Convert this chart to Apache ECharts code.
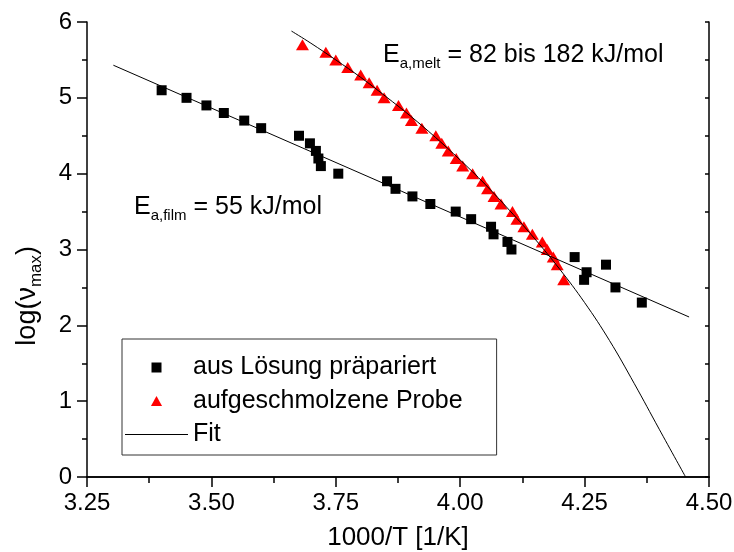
<!DOCTYPE html>
<html>
<head>
<meta charset="utf-8">
<script src="https://cdn.jsdelivr.net/npm/echarts@6/dist/echarts.min.js"></script>
<style>html,body{margin:0;padding:0;background:#fff}#c{width:734px;height:552px}</style>
</head>
<body>
<div id="c"></div>
<script>
// ---- data ----
const squareX = [3.40, 3.45, 3.49, 3.525, 3.566, 3.60, 3.676, 3.698, 3.71, 3.715, 3.72, 3.755, 3.853, 3.87, 3.904, 3.94, 3.991, 4.022, 4.062, 4.067, 4.095, 4.103, 4.23, 4.254, 4.249, 4.293, 4.312, 4.365];
const squareY = [5.1, 5.0, 4.9, 4.8, 4.7, 4.6, 4.5, 4.4, 4.3, 4.2, 4.1, 4.0, 3.9, 3.8, 3.7, 3.6, 3.5, 3.4, 3.3, 3.2, 3.1, 3.0, 2.9, 2.7, 2.6, 2.8, 2.5, 2.3];
const triX = [3.683, 3.730, 3.750, 3.774, 3.800, 3.817, 3.833, 3.847, 3.876, 3.892, 3.902, 3.923, 3.951, 3.963, 3.976, 3.992, 4.005, 4.025, 4.045, 4.055, 4.068, 4.082, 4.105, 4.114, 4.128, 4.145, 4.165, 4.175, 4.187, 4.195, 4.208];
const triY = [5.7, 5.6, 5.5, 5.4, 5.3, 5.2, 5.1, 5.0, 4.9, 4.8, 4.7, 4.6, 4.5, 4.4, 4.3, 4.2, 4.1, 4.0, 3.9, 3.8, 3.7, 3.6, 3.5, 3.4, 3.3, 3.2, 3.1, 3.0, 2.9, 2.8, 2.6];
const linFitX = [3.303, 4.46];
const linFitY = [5.43, 2.11];
const vftFitX = [3.661, 3.70, 3.75, 3.80, 3.85, 3.90, 3.95, 4.00, 4.05, 4.10, 4.15, 4.20, 4.25, 4.30, 4.35, 4.40, 4.453];
const vftFitY = [5.88, 5.72, 5.50, 5.27, 5.02, 4.76, 4.48, 4.18, 3.86, 3.51, 3.14, 2.74, 2.30, 1.80, 1.23, 0.63, 0.0];
const xTicks = { min: 3.25, max: 4.50, step: 0.25 };
const yTicks = { min: 0, max: 6, step: 1 };
const seriesNames = ['aus Lösung präpariert', 'aufgeschmolzene Probe', 'Fit'];

const zip = (xs, ys) => xs.map((x, i) => [x, ys[i]]);
const FONT = 'Liberation Sans, Arial, sans-serif';
const chart = echarts.init(document.getElementById('c'), null, { renderer: 'canvas' });

const axisLine = { show: true, lineStyle: { color: '#000', width: 1.5 } };
const subRich = { s: { fontSize: 15, fontFamily: FONT, verticalAlign: 'bottom', lineHeight: 12 } };
chart.setOption({
  animation: false,
  backgroundColor: '#fff',
  textStyle: { fontFamily: FONT, color: '#000' },
  grid: { left: 87, right: 25, top: 22, bottom: 75, containLabel: false, outerBoundsMode: 'none' },
  xAxis: [{
    type: 'value', min: xTicks.min, max: xTicks.max, interval: xTicks.step,
    position: 'bottom',
    name: '1000/T [1/K]', nameLocation: 'middle', nameGap: 48,
    nameTextStyle: { fontSize: 26, color: '#000', fontFamily: FONT },
    axisLine: axisLine,
    axisTick: { show: true, inside: false, length: 10, lineStyle: { color: '#000', width: 1.5 } },
    minorTick: { show: true, splitNumber: 2, length: 6, lineStyle: { color: '#000', width: 1.5 } },
    axisLabel: { fontSize: 24, color: '#000', margin: 14, fontFamily: FONT, formatter: v => v.toFixed(2) },
    splitLine: { show: false }
  }, {
    type: 'value', min: xTicks.min, max: xTicks.max, interval: xTicks.step,
    position: 'top',
    axisLine: axisLine,
    axisTick: { show: false },
    axisLabel: { show: false },
    splitLine: { show: false }
  }],
  yAxis: [{
    type: 'value', min: yTicks.min, max: yTicks.max, interval: yTicks.step,
    position: 'left',
    axisLine: axisLine,
    axisTick: { show: true, inside: false, length: 10, lineStyle: { color: '#000', width: 1.5 } },
    minorTick: { show: true, splitNumber: 2, length: 5, lineStyle: { color: '#000', width: 1.5 } },
    axisLabel: { fontSize: 24, color: '#000', margin: 15, fontFamily: FONT },
    splitLine: { show: false }
  }, {
    type: 'value', min: yTicks.min, max: yTicks.max, interval: yTicks.step,
    position: 'right',
    axisLine: axisLine,
    axisTick: { show: true, inside: true, length: 4, lineStyle: { color: '#000', width: 1.5 } },
    minorTick: { show: true, splitNumber: 2, length: 4, lineStyle: { color: '#000', width: 1.5 } },
    axisLabel: { show: false },
    splitLine: { show: false }
  }],
  legend: {
    data: [
      { name: seriesNames[0], icon: 'path://M0,0L10,0L10,10L0,10Z' },
      { name: seriesNames[1], icon: 'path://M5,0L10,9L0,9Z' },
      { name: seriesNames[2], icon: 'path://M0,0L63,0L63,1L0,1Z' }
    ],
    orient: 'vertical',
    left: 122, top: 339,
    padding: [16, 34, 8, 3],
    itemWidth: 63, itemHeight: 10, itemGap: 8.5,
    borderColor: '#333', borderWidth: 1,
    textStyle: { fontSize: 25, color: '#000', fontFamily: FONT },
    symbolKeepAspect: true
  },
  series: [{
    name: seriesNames[0], type: 'scatter', symbol: 'rect', symbolSize: 10,
    itemStyle: { color: '#000', opacity: 1 }, data: zip(squareX, squareY), z: 2
  }, {
    name: seriesNames[1], type: 'scatter', symbol: 'triangle', symbolSize: [13, 11],
    itemStyle: { color: '#ff0000', opacity: 1 }, data: zip(triX, triY), z: 2
  }, {
    name: seriesNames[2], type: 'line', symbol: 'none', smooth: false,
    lineStyle: { color: '#000', width: 1 }, itemStyle: { color: '#000' },
    data: zip(linFitX, linFitY), z: 3
  }, {
    name: seriesNames[2], type: 'line', symbol: 'none', smooth: 0.4,
    lineStyle: { color: '#000', width: 1 }, itemStyle: { color: '#000' },
    data: zip(vftFitX, vftFitY), z: 3
  }],
  graphic: [{
    type: 'text', left: 11, top: 246, rotation: Math.PI / 2,
    style: {
      text: 'log(ν{s|max})', font: '27px ' + FONT, fill: '#000',
      rich: { s: { fontSize: 17, fontFamily: FONT, verticalAlign: 'bottom', lineHeight: 12 } },
      lineHeight: 34
    }
  }, {
    type: 'text', left: 134, top: 191,
    style: {
      text: 'E{s|a,film} = 55 kJ/mol', font: '25px ' + FONT, fill: '#000',
      rich: subRich, lineHeight: 32
    }
  }, {
    type: 'text', left: 383, top: 39,
    style: {
      text: 'E{s|a,melt} = 82 bis 182 kJ/mol', font: '25px ' + FONT, fill: '#000',
      rich: subRich, lineHeight: 32
    }
  }]
});
</script>
</body>
</html>
